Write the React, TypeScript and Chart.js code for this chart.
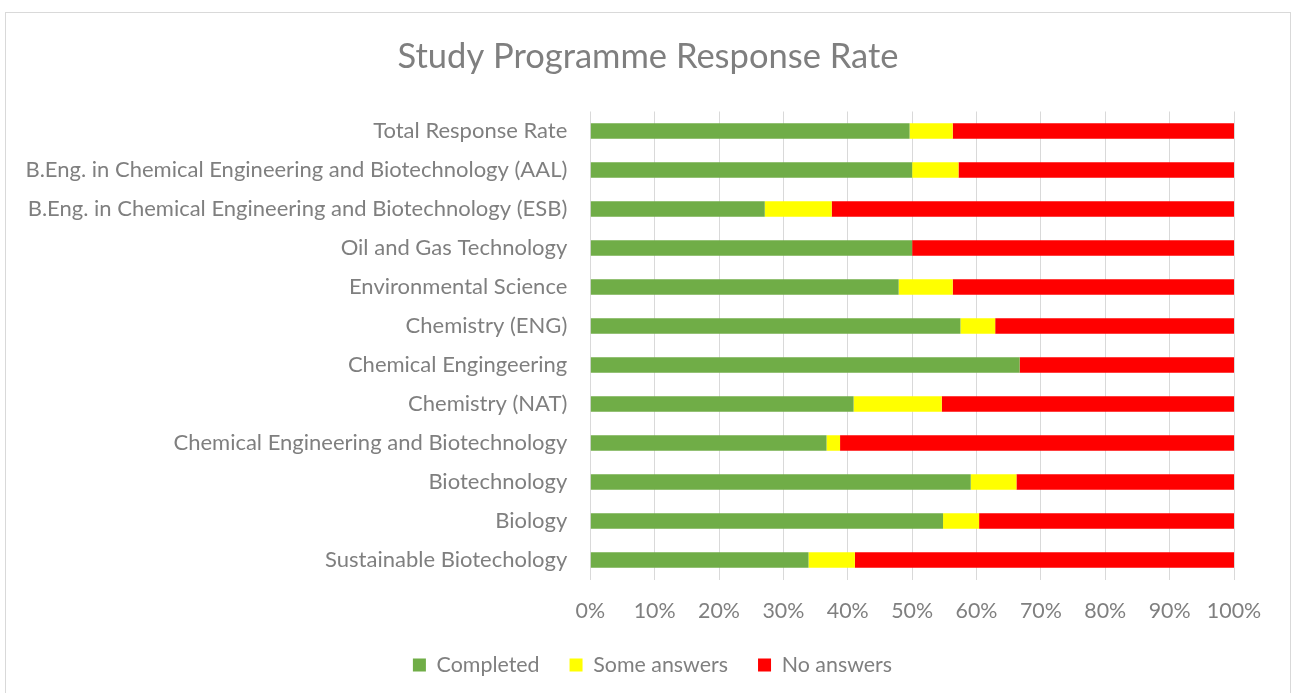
import React, { useEffect, useRef } from "react";
import { Chart, registerables } from "chart.js";

Chart.register(...registerables);

const categories = [
  "Total Response Rate",
  "B.Eng. in Chemical Engineering and Biotechnology (AAL)",
  "B.Eng. in Chemical Engineering and Biotechnology (ESB)",
  "Oil and Gas Technology",
  "Environmental Science",
  "Chemistry (ENG)",
  "Chemical Engingeering",
  "Chemistry (NAT)",
  "Chemical Engineering and Biotechnology",
  "Biotechnology",
  "Biology",
  "Sustainable Biotechology",
];

const completed = [49.6, 50.0, 27.1, 50.0, 47.9, 57.5, 66.7, 40.9, 36.7, 59.1, 54.8, 33.9];
const someAnswers = [6.7, 7.2, 10.4, 0, 8.4, 5.4, 0, 13.7, 2.1, 7.1, 5.6, 7.2];
const noAnswers = [43.7, 42.8, 62.5, 50.0, 43.7, 37.1, 33.3, 45.4, 61.2, 33.8, 39.6, 58.9];

const seriesNames = ["Completed", "Some answers", "No answers"];
const seriesColors = ["#70AD47", "#FFFF00", "#FF0000"];

const TEXT = "#7f7f7f";
const FONT = "Lato";

// Centre title and legend over the whole chart frame rather than the padded box
const centerBoxes = {
  id: "centerBoxes",
  afterLayout(chart: any) {
    const t = chart.titleBlock;
    if (t) {
      t.left = 0;
      t.right = 1296;
    }
    const l = chart.legend;
    if (l) {
      l.left = 0;
      l.right = 1305;
    }
  },
};

export default function App() {
  const ref = useRef<HTMLCanvasElement>(null);

  useEffect(() => {
    if (!ref.current) return;
    const chart = new Chart(ref.current, {
      type: "bar",
      data: {
        labels: categories,
        datasets: [completed, someAnswers, noAnswers].map((d, i) => ({
          label: seriesNames[i],
          data: d,
          backgroundColor: seriesColors[i],
          borderWidth: 0,
          barPercentage: 0.4,
          categoryPercentage: 1,
        })),
      },
      options: {
        indexAxis: "y",
        animation: false,
        responsive: false,
        maintainAspectRatio: false,
        layout: { padding: { left: 0, right: 59, top: 0, bottom: 7.3 } },
        plugins: {
          title: {
            display: true,
            text: "Study Programme Response Rate",
            color: TEXT,
            font: { family: FONT, size: 34.5, weight: "normal" },
            padding: { top: 36.3, bottom: 33.8 },
          },
          legend: {
            position: "bottom",
            labels: {
              color: TEXT,
              font: { family: FONT, size: 21.4 },
              boxWidth: 13,
              boxHeight: 13,
              padding: 30,
            },
          },
          tooltip: { enabled: false },
        },
        scales: {
          x: {
            stacked: true,
            min: 0,
            max: 100,
            ticks: {
              stepSize: 10,
              color: TEXT,
              font: { family: FONT, size: 21.4 },
              padding: 18.5,
              callback: (v: any) => v + "%",
            },
            grid: { color: "#d9d9d9", drawTicks: false, lineWidth: 1 },
            border: { display: false },
            afterFit: (s: any) => {
              s.height = 44.8;
            },
          },
          y: {
            stacked: true,
            ticks: {
              color: TEXT,
              font: { family: FONT, size: 22 },
              padding: 23,
            },
            grid: { display: false, drawTicks: false },
            border: { display: false },
            afterFit: (s: any) => {
              s.width = 590.3;
            },
          },
        },
      },
      plugins: [centerBoxes],
    });
    return () => chart.destroy();
  }, []);

  return (
    <div style={{ position: "absolute", left: 0, top: 0, width: 1293, height: 693, background: "#fff", overflow: "hidden" }}>
      <div
        style={{
          position: "absolute",
          left: 5,
          top: 12,
          width: 1286,
          height: 720,
          border: "1px solid #d9d9d9",
          boxSizing: "border-box",
        }}
      />
      <canvas ref={ref} width={1293} height={693} style={{ position: "absolute", left: 0, top: 0 }} />
    </div>
  );
}
